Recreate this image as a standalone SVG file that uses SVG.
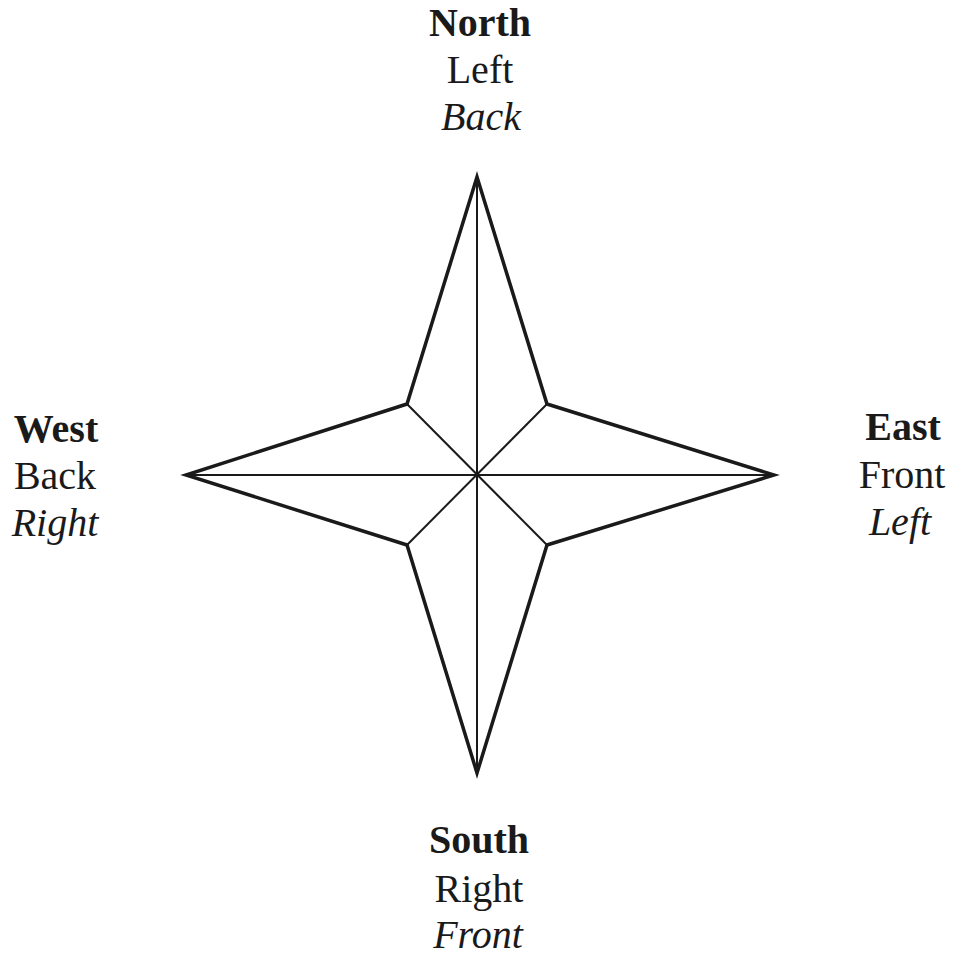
<svg xmlns="http://www.w3.org/2000/svg" width="958" height="957" viewBox="0 0 958 957">
<style>
.t{font-family:"Liberation Serif","Times New Roman",serif;font-size:40px;fill:#1a1a1a;text-anchor:middle}
.b{font-weight:bold}
.i{font-style:italic}
.outline{fill:none;stroke:#1a1a1a;stroke-width:3.5;stroke-linejoin:miter;stroke-miterlimit:6}
.thin{fill:none;stroke:#1a1a1a;stroke-width:2}
</style>
<rect width="958" height="957" fill="#fff"/>
<g id="star">
<polygon class="outline" points="477,177 547,404 774,475 547,545 477,773 407,545 186,475 407,404"/>
</g>
<g id="connectors">
<line class="thin" x1="477" y1="177" x2="477" y2="773"/>
<line class="thin" x1="186" y1="475" x2="774" y2="475"/>
<line class="thin" x1="407" y1="404" x2="547" y2="545"/>
<line class="thin" x1="547" y1="404" x2="407" y2="545"/>
<circle cx="477" cy="475" r="2.5" fill="#1a1a1a"/>
</g>
<g id="north">
<text class="t b" x="480" y="36">North</text>
<text class="t" x="480" y="83">Left</text>
<text class="t i" x="481" y="130">Back</text>
</g>
<g id="west">
<text class="t b" x="56" y="442">West</text>
<text class="t" x="55" y="489">Back</text>
<text class="t i" x="55" y="536">Right</text>
</g>
<g id="east">
<text class="t b" x="903" y="440">East</text>
<text class="t" x="902" y="488">Front</text>
<text class="t i" x="900" y="535">Left</text>
</g>
<g id="south">
<text class="t b" x="479" y="853">South</text>
<text class="t" x="479" y="902">Right</text>
<text class="t i" x="478" y="948">Front</text>
</g>
</svg>
